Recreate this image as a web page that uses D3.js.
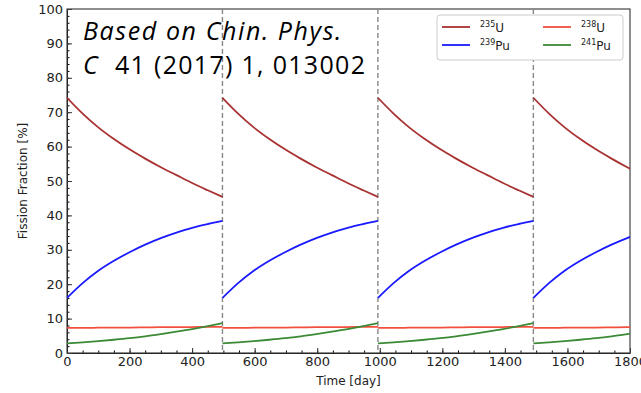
<!DOCTYPE html>
<html>
<head>
<meta charset="utf-8">
<script src="https://cdn.jsdelivr.net/npm/d3@7"></script>
<style>
  body { margin: 0; background: #fff; }
  svg { display: block; }
  svg text { font-family: "DejaVu Sans", sans-serif; }
</style>
</head>
<body>
<div id="chart"></div>
<script>
// day inside each fuel cycle, and the read-off fractions [%]
const cycleDays = [0, 50, 100, 150, 200, 250, 300, 350, 400, 450, 497];
const u235  = [74.2, 69.6, 65.6, 62.2, 59.2, 56.5, 54.0, 51.7, 49.4, 47.3, 45.4];
const u238  = [7.3, 7.3, 7.35, 7.4, 7.4, 7.45, 7.5, 7.5, 7.55, 7.6, 7.6];
const pu239 = [16.0, 20.3, 23.9, 26.8, 29.3, 31.5, 33.4, 35.0, 36.4, 37.5, 38.4];
const pu241 = [2.8, 3.1, 3.45, 3.85, 4.3, 4.85, 5.5, 6.2, 6.95, 7.8, 8.7];
const cycleStarts = [0, 497, 994, 1491];
const xTicks = [0, 200, 400, 600, 800, 1000, 1200, 1400, 1600, 1800];
const yTicks = [0, 10, 20, 30, 40, 50, 60, 70, 80, 90, 100];

const isotopes = [
  {name: "235", el: "U",  vals: u235,  color: "#a83232"},
  {name: "238", el: "U",  vals: u238,  color: "#f2503f"},
  {name: "239", el: "Pu", vals: pu239, color: "#1a1aff"},
  {name: "241", el: "Pu", vals: pu241, color: "#3b8a35"}
];

let margin = {top: 9, right: 11, bottom: 40, left: 67};
let width = 641 - margin.left - margin.right;
let height = 344;

let svg = d3.select("#chart")
  .append("svg")
    .attr("width", 641)
    .attr("height", 393)
  .append("g")
    .attr("transform", "translate(" + margin.left + "," + margin.top + ")");

let x = d3.scaleLinear().domain([0, 1800]).range([0, width]);
let y = d3.scaleLinear().domain([0, 100]).range([height, 0]);

svg.append("clipPath").attr("id", "clip")
  .append("rect").attr("width", width).attr("height", height);

// minor ticks
svg.append("g")
  .attr("transform", "translate(0," + height + ")")
  .call(d3.axisBottom(x).tickValues(d3.range(0, 1801, 50)).tickSizeInner(-2.5).tickSizeOuter(0).tickFormat(""))
  .call(g => g.select(".domain").remove());
svg.append("g")
  .call(d3.axisLeft(y).tickValues(d3.range(0, 101, 2)).tickSizeInner(-2.5).tickSizeOuter(0).tickFormat(""))
  .call(g => g.select(".domain").remove());

// major axes
let xAxis = svg.append("g")
  .attr("transform", "translate(0," + height + ")")
  .call(d3.axisBottom(x).tickValues(xTicks).tickFormat(d3.format("d")).tickSizeInner(-5).tickSizeOuter(0).tickPadding(4));
let yAxis = svg.append("g")
  .call(d3.axisLeft(y).tickValues(yTicks).tickFormat(d3.format("d")).tickSizeInner(-5).tickSizeOuter(0).tickPadding(4));
[xAxis, yAxis].forEach(a => {
  a.attr("font-family", null);
  a.selectAll("text").style("font-size", "13px").attr("fill", "#222");
  a.selectAll("line").attr("stroke", "#333");
});

// frame
svg.append("rect")
  .attr("width", width).attr("height", height)
  .attr("fill", "none").attr("stroke", "#444").attr("stroke-width", 1.2);

// cycle boundaries
svg.selectAll(".cyc")
  .data(cycleStarts.slice(1))
  .enter().append("line")
  .attr("x1", d => x(d)).attr("x2", d => x(d))
  .attr("y1", 0).attr("y2", height)
  .attr("stroke", "#888").attr("stroke-width", 1.4)
  .attr("stroke-dasharray", "5,3");

// curves, one segment per cycle
let line = d3.line().curve(d3.curveMonotoneX).x(d => x(d[0])).y(d => y(d[1]));
isotopes.forEach(iso => {
  cycleStarts.forEach(s => {
    let pts = cycleDays.map((d, i) => [s + d, iso.vals[i]]);
    svg.append("path")
      .datum(pts)
      .attr("clip-path", "url(#clip)")
      .attr("fill", "none")
      .attr("stroke", iso.color)
      .attr("stroke-width", 1.8)
      .attr("d", line);
  });
});

// axis labels
svg.append("text")
  .attr("x", width / 2).attr("y", height + 32)
  .attr("text-anchor", "middle")
  .style("font-size", "12px").attr("fill", "#222")
  .text("Time [day]");
svg.append("text")
  .attr("transform", "rotate(-90)")
  .attr("x", -height / 2).attr("y", -40)
  .attr("text-anchor", "middle")
  .style("font-size", "12px").attr("fill", "#222")
  .text("Fission Fraction [%]");

// legend
let leg = svg.append("g").attr("transform", "translate(370,6)");
leg.append("rect")
  .attr("width", 186).attr("height", 45).attr("rx", 3)
  .attr("fill", "#fff").attr("stroke", "#ccc");
isotopes.forEach((iso, i) => {
  let col = i % 2, row = Math.floor(i / 2);
  let g = leg.append("g").attr("transform", "translate(" + (5 + col * 101) + "," + (12 + row * 18) + ")");
  g.append("line").attr("x1", 0).attr("x2", 28).attr("stroke", iso.color).attr("stroke-width", 1.8);
  let t = g.append("text").attr("x", 38).attr("y", 5).style("font-size", "12px").attr("fill", "#222");
  t.append("tspan").attr("dy", -5).style("font-size", "8px").text(iso.name);
  t.append("tspan").attr("dy", 5).text(iso.el);
});

// reference note
let note = svg.append("g").attr("fill", "#000");
note.append("text").attr("x", 16).attr("y", 30.5)
  .style("font-family", "'Open Sans', sans-serif").style("font-size", "25px")
  .style("letter-spacing", "1.6px")
  .style("font-style", "italic").text("Based on Chin. Phys.");
let l2 = note.append("text").attr("x", 16).attr("y", 64.5)
  .style("font-family", "'Open Sans', sans-serif").style("font-size", "25px")
  .style("letter-spacing", "1.3px");
l2.append("tspan").style("font-style", "italic").text("C");
l2.append("tspan").attr("dx", 16).text("41 (2017) 1, 013002");
</script>
</body>
</html>
